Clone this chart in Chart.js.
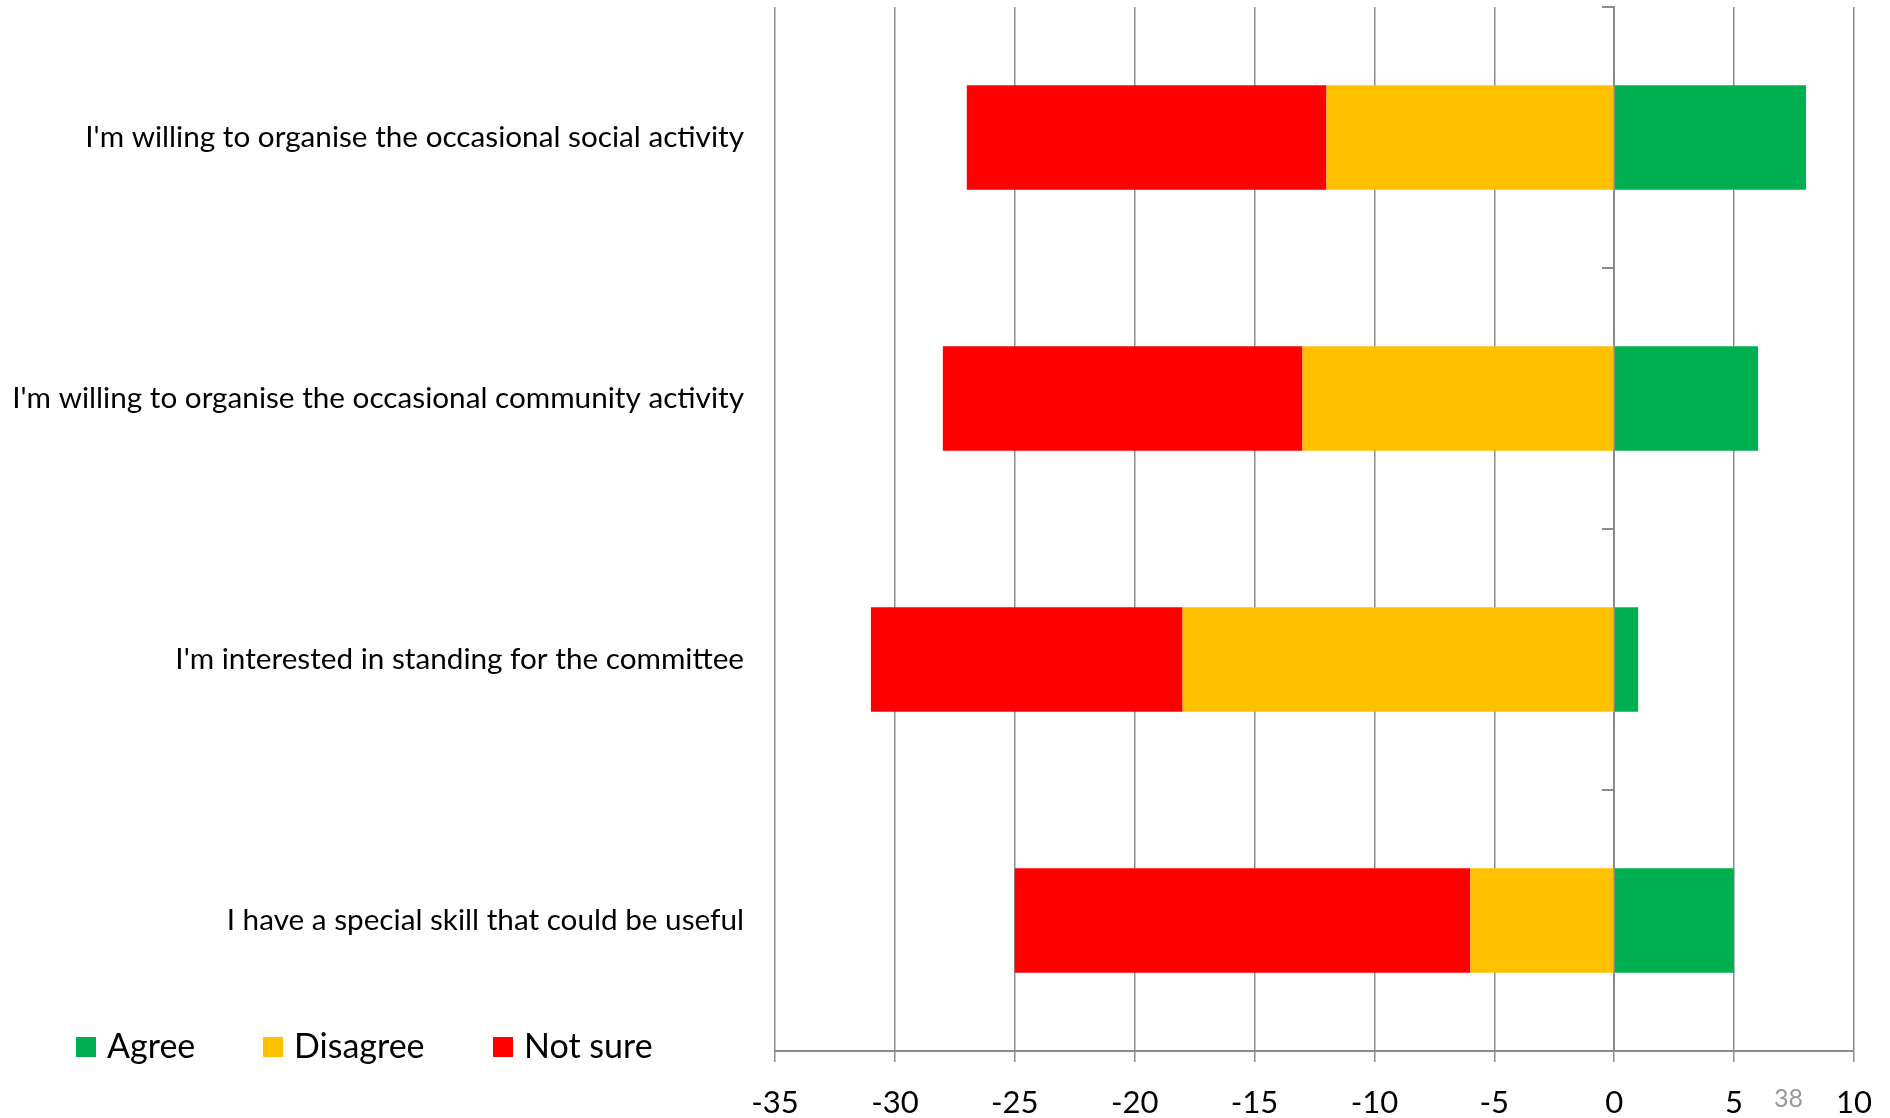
<!DOCTYPE html>
<html>
<head>
<meta charset="utf-8">
<script src="https://cdn.jsdelivr.net/npm/chart.js@4.4.1/dist/chart.umd.min.js"></script>
<style>
    body { margin: 0; background: #fff; }
    .wrap { position: relative; width: 1890px; height: 1118px; }
    .legend { position: absolute; top: 1024px; left: 76px; font-family: Lato, sans-serif; font-size: 34px; color: #000; }
    .legend span.item { position: absolute; white-space: nowrap; top: 0; }
    .legend i { display: inline-block; width: 20px; height: 20px; margin-right: 11px; vertical-align: 1px; }
    .page-no { position: absolute; left: 1774px; top: 1082px; font-family: Lato, sans-serif; font-size: 25px; color: #999; }
</style>
</head>
<body>
<div class="wrap">
    <canvas id="barChart" width="1890" height="1118"></canvas>
    <div class="legend" id="legend"></div>
    <div class="page-no">38</div>
</div>
<script>
const questions = [
    "I'm willing to organise the occasional social activity",
    "I'm willing to organise the occasional community activity",
    "I'm interested in standing for the committee",
    "I have a special skill that could be useful"
];
const agree = [8, 6, 1, 5];
const disagree = [-12, -13, -18, -6];
const notSure = [-15, -15, -13, -19];
const xTicks = [-35, -30, -25, -20, -15, -10, -5, 0, 5, 10];

const colours = { agree: '#00B050', disagree: '#FFC000', notSure: '#FF0000' };
const gridGrey = '#8c8c8c';

// Bar Chart
new Chart(document.getElementById("barChart"), {
    type: 'bar',
    data: {
        labels: questions,
        datasets: [
            { label: 'Agree', data: agree, backgroundColor: colours.agree },
            { label: 'Disagree', data: disagree, backgroundColor: colours.disagree },
            { label: 'Not sure', data: notSure, backgroundColor: colours.notSure }
        ]
    },
    options: {
        indexAxis: 'y',
        responsive: false,
        animation: false,
        layout: { padding: { top: 7, right: 36, left: 0, bottom: 0 } },
        datasets: { bar: { barPercentage: 0.4, categoryPercentage: 1 } },
        plugins: { legend: { display: false }, tooltip: { enabled: false } },
        scales: {
            x: {
                stacked: true,
                min: xTicks[0],
                max: xTicks[xTicks.length - 1],
                afterBuildTicks: function (scale) {
                    scale.ticks = xTicks.map(v => ({ value: v }));
                },
                afterFit: function (scale) {
                    scale.height = 67;
                    // layout padding already leaves room for the end labels
                    scale.paddingLeft = 0;
                    scale.paddingRight = 0;
                },
                grid: { color: gridGrey, lineWidth: 1.5, tickLength: 11 },
                border: { color: gridGrey, width: 2 },
                ticks: {
                    color: '#000',
                    padding: 22,
                    font: { family: 'Lato', size: 31 }
                }
            },
            y: {
                stacked: true,
                afterFit: function (scale) { scale.width = 775; },
                // grid hidden, tick length only used as the gap between labels and plot
                grid: { display: false, drawTicks: true, tickLength: 31 },
                border: { display: false },
                ticks: {
                    color: '#000',
                    padding: 0,
                    // small lineHeight so the labels don't push the plot down
                    font: { family: 'Lato', size: 29.7, lineHeight: 0.4 }
                }
            },
            // vertical axis line crossing at zero, with tick marks between categories
            y2: {
                type: 'category',
                axis: 'y',
                position: { x: 0 },
                offset: true,
                z: 1,
                grid: { offset: true, drawOnChartArea: false, tickLength: 11, color: gridGrey, lineWidth: 2 },
                border: { color: gridGrey, width: 2 },
                ticks: { display: false }
            }
        }
    }
});

// legend drawn as html, sitting left of the axis
const legendItems = [
    { text: 'Agree', colour: colours.agree, left: 0 },
    { text: 'Disagree', colour: colours.disagree, left: 187 },
    { text: 'Not sure', colour: colours.notSure, left: 417 }
];
const legendEl = document.getElementById('legend');
legendItems.forEach(item => {
    const span = document.createElement('span');
    span.className = 'item';
    span.style.left = item.left + 'px';
    span.innerHTML = '<i style="background:' + item.colour + '"></i>' + item.text;
    legendEl.appendChild(span);
});
</script>
</body>
</html>
